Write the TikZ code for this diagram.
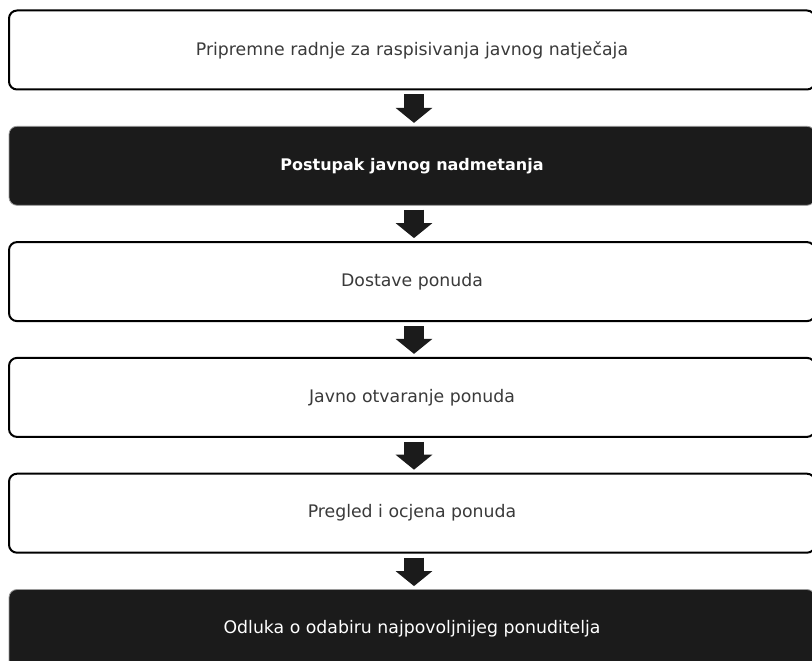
\documentclass[tikz,border=0pt]{standalone}
\usepackage{fontspec}
\setmainfont{DejaVu Sans}
\usetikzlibrary{arrows.meta}
\definecolor{boxdark}{HTML}{1B1B1B}
\definecolor{textgray}{HTML}{3A3A3A}
\definecolor{edgegray}{HTML}{9A9A9A}
\tikzset{
  flowbox/.style={rounded corners=8pt, minimum width=806pt, minimum height=79pt,
    inner sep=0pt, font=\fontsize{17.3}{20}\selectfont},
  lightbox/.style={flowbox, draw=black, line width=2pt, fill=white, text=textgray},
  darkbox/.style={flowbox, draw=edgegray, line width=0.8pt, fill=boxdark, text=white},
  flowarrow/.style={draw=boxdark, line width=20pt, -{Triangle[length=15pt,width=36pt]}}
}
\begin{document}
\begin{tikzpicture}[x=1pt,y=-1pt]
\clip (0,0) rectangle (812,661);
\fill[white] (0,0) rectangle (812,661);
\node[lightbox] (b1) at (412,50) {Pripremne radnje za raspisivanja javnog natječaja};
\node[darkbox]  (b2) at (412,165.8) {\fontsize{16}{19}\selectfont\bfseries Postupak javnog nadmetanja};
\node[lightbox] (b3) at (412,281.6) {Dostave ponuda};
\node[lightbox] (b4) at (412,397.4) {Javno otvaranje ponuda};
\node[lightbox] (b5) at (412,513.2) {Pregled i ocjena ponuda};
\node[darkbox]  (b6) at (412,629) {Odluka o odabiru najpovoljnijeg ponuditelja};
\foreach \a/\b in {b1/b2,b2/b3,b3/b4,b4/b5,b5/b6}{
  \draw[flowarrow] ([xshift=2pt,yshift=-4pt]\a.south) -- ([xshift=2pt,yshift=3pt]\b.north);
}
\end{tikzpicture}
\end{document}
